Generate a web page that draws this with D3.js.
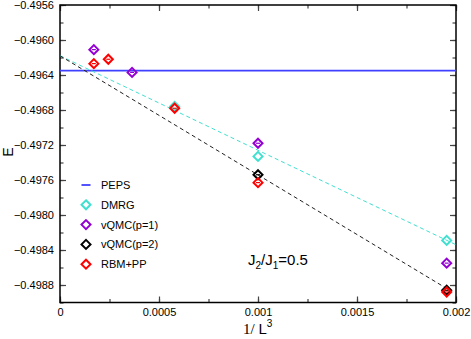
<!DOCTYPE html>
<html>
<head>
<meta charset="utf-8">
<script src="https://cdn.jsdelivr.net/npm/d3@7"></script>
<style>
  body { margin: 0; background: #fff; }
  text { font-family: "Liberation Sans", Arial, sans-serif; }
</style>
</head>
<body>
<svg width="471" height="339"></svg>
<script>
// 1/L^3 values for L = 18, 16, 14, 12, 10, 8
var pepsE = -0.49635;

var dmrgX = [0.000579, 0.001, 0.001953];
var dmrgY = [-0.49676, -0.49733, -0.49829];

var vqmc1X = [0.000171, 0.000364, 0.001, 0.001953];
var vqmc1Y = [-0.49611, -0.49637, -0.49718, -0.49855];

var vqmc2X = [0.001, 0.001953];
var vqmc2Y = [-0.49754, -0.49886];

var rbmX = [0.000171, 0.000244, 0.000579, 0.001, 0.001953];
var rbmY = [-0.49627, -0.49622, -0.49678, -0.49763, -0.49888];

// linear fits (dashed)
var fitDmrgX = [0, 0.002];
var fitDmrgY = [-0.49618, -0.49834];
var fitVqmcX = [0, 0.001953];
var fitVqmcY = [-0.49618, -0.49884];

var xTicks = [0, 0.0005, 0.001, 0.0015, 0.002];
var xTickLabels = ["0", "0.0005", "0.001", "0.0015", "0.002"];
var yTicks = [-0.4956, -0.4960, -0.4964, -0.4968, -0.4972, -0.4976, -0.4980, -0.4984, -0.4988];

var legendNames = ["PEPS", "DMRG", "vQMC(p=1)", "vQMC(p=2)", "RBM+PP"];
var colors = ["#4040ff", "#40e0d0", "#9400d3", "#000000", "#ff0000"];

var svg = d3.select("svg");
var pLeft = 60, pRight = 456, pTop = 5, pBottom = 302.5;

var x = d3.scaleLinear().domain([0, 0.002]).range([pLeft, pRight]);
var y = d3.scaleLinear().domain([-0.4956, -0.4990]).range([pTop, pBottom]);

var g = svg.append("g");

// ticks (inward, mirrored on all sides)
var xMinor = d3.range(0, 0.002001, 0.00025);
var yMinor = d3.range(-0.4956, -0.49901, -0.0002);

function tickStyle(sel) {
  sel.select(".domain").remove();
  sel.selectAll("line").attr("stroke", "#444").attr("stroke-width", 1.2);
}

g.append("g").attr("transform", "translate(0," + pBottom + ")")
  .call(d3.axisBottom(x).tickValues(xMinor).tickSize(-3.5).tickFormat(""))
  .call(tickStyle);
g.append("g").attr("transform", "translate(0," + pBottom + ")")
  .call(d3.axisBottom(x).tickValues(xTicks).tickSize(-6).tickPadding(6)
    .tickFormat(function (d, i) { return xTickLabels[i]; }))
  .call(tickStyle)
  .selectAll("text").attr("font-size", "11px").attr("fill", "#000");
g.append("g").attr("transform", "translate(0," + pTop + ")")
  .call(d3.axisTop(x).tickValues(xMinor).tickSize(-3.5).tickFormat(""))
  .call(tickStyle);
g.append("g").attr("transform", "translate(0," + pTop + ")")
  .call(d3.axisTop(x).tickValues(xTicks).tickSize(-6).tickFormat(""))
  .call(tickStyle);

g.append("g").attr("transform", "translate(" + pLeft + ",0)")
  .call(d3.axisLeft(y).tickValues(yMinor).tickSize(-3.5).tickFormat(""))
  .call(tickStyle);
g.append("g").attr("transform", "translate(" + pLeft + ",0)")
  .call(d3.axisLeft(y).tickValues(yTicks).tickSize(-6).tickPadding(6)
    .tickFormat(d3.format(".4f")))
  .call(tickStyle)
  .selectAll("text").attr("font-size", "11px").attr("fill", "#000");
g.append("g").attr("transform", "translate(" + pRight + ",0)")
  .call(d3.axisRight(y).tickValues(yMinor).tickSize(-3.5).tickFormat(""))
  .call(tickStyle);
g.append("g").attr("transform", "translate(" + pRight + ",0)")
  .call(d3.axisRight(y).tickValues(yTicks).tickSize(-6).tickFormat(""))
  .call(tickStyle);

// frame
g.append("rect")
  .attr("x", pLeft).attr("y", pTop)
  .attr("width", pRight - pLeft).attr("height", pBottom - pTop)
  .attr("fill", "none").attr("stroke", "#000").attr("stroke-width", 1.5);

// PEPS line
g.append("line")
  .attr("x1", pLeft).attr("x2", pRight)
  .attr("y1", y(pepsE)).attr("y2", y(pepsE))
  .attr("stroke", colors[0]).attr("stroke-width", 1.8);

// fits
var line = d3.line().x(function (d) { return x(d[0]); }).y(function (d) { return y(d[1]); });
g.append("path")
  .datum(d3.zip(fitDmrgX, fitDmrgY))
  .attr("d", line)
  .attr("fill", "none").attr("stroke", colors[1]).attr("stroke-width", 1)
  .attr("stroke-dasharray", "4,3");
g.append("path")
  .datum(d3.zip(fitVqmcX, fitVqmcY))
  .attr("d", line)
  .attr("fill", "none").attr("stroke", "#222").attr("stroke-width", 1)
  .attr("stroke-dasharray", "4,3");

// diamonds
function diamonds(xs, ys, color, bar) {
  var pts = g.append("g").selectAll("g")
    .data(d3.zip(xs, ys))
    .enter()
    .append("g")
    .attr("transform", function (d) { return "translate(" + x(d[0]) + "," + y(d[1]) + ")"; });
  pts.append("path")
    .attr("d", "M0,-4.5L4.5,0L0,4.5L-4.5,0Z")
    .attr("fill", "none").attr("stroke", color).attr("stroke-width", 2);
  if (bar) {
    pts.append("line")
      .attr("x1", -2).attr("x2", 2).attr("y1", 0).attr("y2", 0)
      .attr("stroke", color).attr("stroke-width", 1.2);
  }
}
diamonds(dmrgX, dmrgY, colors[1], false);
diamonds(vqmc1X, vqmc1Y, colors[2], true);
diamonds(vqmc2X, vqmc2Y, colors[3], true);
diamonds(rbmX, rbmY, colors[4], true);

// legend
var leg = g.append("g").selectAll("g")
  .data(legendNames)
  .enter()
  .append("g")
  .attr("transform", function (d, i) { return "translate(86," + (185 + i * 19.8) + ")"; });
leg.each(function (d, i) {
  var s = d3.select(this);
  if (i === 0) {
    s.append("line").attr("x1", -4.5).attr("x2", 4.5)
      .attr("stroke", colors[0]).attr("stroke-width", 1.8);
  } else {
    s.append("path")
      .attr("d", "M0,-4.5L4.5,0L0,4.5L-4.5,0Z")
      .attr("fill", "none").attr("stroke", colors[i]).attr("stroke-width", 2);
  }
  s.append("text").attr("x", 15).attr("y", 4)
    .attr("font-size", "11px").text(d);
});

// axis titles
svg.append("text")
  .attr("transform", "translate(13,152) rotate(-90)")
  .attr("text-anchor", "middle")
  .attr("font-size", "14px")
  .text("E");

var xt = svg.append("text")
  .attr("x", 243).attr("y", 334)
  .attr("font-size", "15px");
xt.append("tspan").attr("font-family", "Liberation Serif, serif").text("1/ ");
xt.append("tspan").text("L");
xt.append("tspan").attr("dy", -7).attr("font-size", "10px").text("3");

var jt = svg.append("text")
  .attr("x", 248).attr("y", 265)
  .attr("font-size", "15px");
jt.append("tspan").text("J");
jt.append("tspan").attr("dy", 4).attr("font-size", "10px").text("2");
jt.append("tspan").attr("dy", -4).text("/J");
jt.append("tspan").attr("dy", 4).attr("font-size", "10px").text("1");
jt.append("tspan").attr("dy", -4).text("=0.5");
</script>
</body>
</html>
